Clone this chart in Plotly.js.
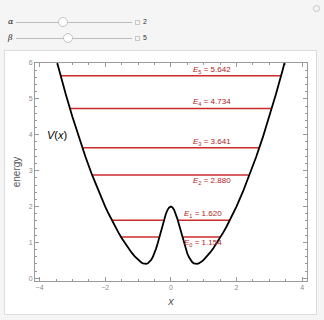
<!DOCTYPE html>
<html>
<head>
<meta charset="utf-8">
<script src="https://cdn.plot.ly/plotly-3.0.1.min.js"></script>
<style>
html,body{margin:0;padding:0;background:#f5f5f5;width:324px;height:320px;overflow:hidden;font-family:"Liberation Sans",Arial,sans-serif;}
#panel{position:absolute;left:4px;top:50px;width:311px;height:263px;background:#fff;border:1px solid #dcdcdc;}
#chart{position:absolute;left:0;top:0;width:324px;height:320px;}
.lbl{position:absolute;font-size:8px;line-height:8px;color:#222;font-style:italic;font-family:"DejaVu Serif",serif;}
.track{position:absolute;height:1px;background:#bdbdbd;}
.thumb{position:absolute;width:10px;height:10px;border-radius:50%;background:#fff;border:1px solid #c4c4c4;box-sizing:border-box;}
.box{position:absolute;width:5px;height:5px;border:1px solid #c8c8c8;box-sizing:border-box;}
.val{position:absolute;font-size:7px;line-height:8px;color:#333;}
#gear{position:absolute;left:313px;top:5px;width:7px;height:7px;border-radius:50%;border:1.5px solid #c6c6c6;box-sizing:border-box;}
</style>
</head>
<body>
<div id="panel"></div>
<div class="lbl" style="left:8px;top:18px;">α</div>
<div class="track" style="left:16px;top:22px;width:116px;"></div>
<div class="thumb" style="left:58px;top:17px;"></div>
<div class="box" style="left:135px;top:20px;"></div>
<div class="val" style="left:143px;top:18px;">2</div>
<div class="lbl" style="left:8px;top:34px;">β</div>
<div class="track" style="left:16px;top:38px;width:116px;"></div>
<div class="thumb" style="left:63px;top:33px;"></div>
<div class="box" style="left:135px;top:36px;"></div>
<div class="val" style="left:143px;top:34px;">5</div>
<div id="gear"></div>
<div id="chart"></div>
<script>
// potential curve V(x) (alpha = 2, beta = 5)
var curveX = [-3.5,-3.4,-3.2,-3.0,-2.8,-2.6,-2.4,-2.2,-2.0,-1.9,-1.8,-1.7,-1.6,-1.5,-1.4,-1.3,-1.2,-1.1,-1.0,-0.95,-0.9,-0.85,-0.8,-0.75,-0.7,-0.65,-0.6,-0.55,-0.5,-0.45,-0.4,-0.35,-0.3,-0.25,-0.2,-0.15,-0.1,-0.05,0,
  0.05,0.1,0.15,0.2,0.25,0.3,0.35,0.4,0.45,0.5,0.55,0.6,0.65,0.7,0.75,0.8,0.85,0.9,0.95,1.0,1.1,1.2,1.3,1.4,1.5,1.6,1.7,1.8,1.9,2.0,2.2,2.4,2.6,2.8,3.0,3.2,3.4,3.5];
var curveY = [6.125,5.78,5.12,4.5,3.92,3.38,2.88,2.42,2.0,1.805,1.62,1.445,1.28,1.125,0.980,0.845,0.7215,0.6097,0.5135,0.4732,0.4399,0.4152,0.4015,0.4014,0.4176,0.4531,0.5106,0.592,0.698,0.8279,0.9787,1.1452,1.3203,1.4945,1.6575,1.7985,1.9075,1.9764,2.0,
  1.9764,1.9075,1.7985,1.6575,1.4945,1.3203,1.1452,0.9787,0.8279,0.698,0.592,0.5106,0.4531,0.4176,0.4014,0.4015,0.4152,0.4399,0.4732,0.5135,0.6097,0.7215,0.845,0.980,1.125,1.28,1.445,1.62,1.805,2.0,2.42,2.88,3.38,3.92,4.5,5.12,5.78,6.125];

// energy levels and their turning points
var levelE     = [1.154, 1.620, 2.880, 3.641, 4.734, 5.642];
var levelNames = ["0","1","2","3","4","5"];
var outerLeft  = [-1.519, -1.800, -2.400, -2.6985, -3.077, -3.3592];
var outerRight = [ 1.519,  1.800,  2.400,  2.6985,  3.077,  3.3592];
var innerLeft  = [-0.3475, -0.212, null, null, null, null];
var innerRight = [ 0.3475,  0.212, null, null, null, null];
var labelX     = [0.985, 0.985, 1.244, 1.244, 1.244, 1.244];
var labelAbove = [false, true, false, true, true, true];

var red = '#cc2b2b';
var traces = [];
for (var i = 0; i < levelE.length; i++) {
  var xs, ys;
  if (innerLeft[i] !== null) {
    xs = [outerLeft[i], innerLeft[i], null, innerRight[i], outerRight[i]];
    ys = [levelE[i], levelE[i], null, levelE[i], levelE[i]];
  } else {
    xs = [outerLeft[i], outerRight[i]];
    ys = [levelE[i], levelE[i]];
  }
  traces.push({x: xs, y: ys, mode: 'lines', line: {color: red, width: 1.5}, hoverinfo: 'skip', showlegend: false});
}
traces.push({x: curveX, y: curveY, mode: 'lines', line: {color: '#000', width: 1.8}, showlegend: false, hoverinfo: 'skip'});

var annotations = [];
for (var j = 0; j < levelE.length; j++) {
  annotations.push({
    x: labelX[j], y: levelE[j], xref: 'x', yref: 'y', showarrow: false,
    text: '<i>E</i><sub>' + levelNames[j] + '</sub> = ' + levelE[j].toFixed(3),
    font: {family: 'Liberation Sans, Arial, sans-serif', size: 8, color: '#b22222'},
    yshift: labelAbove[j] ? 6 : -6
  });
}
annotations.push({x: -3.48, y: 3.99, xref: 'x', yref: 'y', showarrow: false,
  text: '<i>V</i>(<i>x</i>)', font: {family: 'Liberation Sans, Arial, sans-serif', size: 11, color: '#000'}});

var axisCommon = {
  showgrid: false, zeroline: false, showline: true, linecolor: '#9a9a9a', linewidth: 1,
  mirror: 'allticks', ticks: 'inside', ticklen: 4, tickcolor: '#9a9a9a', tickwidth: 1,
  tickfont: {family: 'Liberation Sans, Arial, sans-serif', size: 7, color: '#8a8a8a'}
};
var layout = {
  width: 324, height: 320,
  paper_bgcolor: 'rgba(0,0,0,0)', plot_bgcolor: '#fff',
  margin: {l: 35, r: 17, t: 63, b: 39},
  xaxis: Object.assign({}, axisCommon, {
    range: [-4.14, 4.15], tickvals: [-4, -2, 0, 2, 4], ticktext: ['−4','−2','0','2','4'],
    minor: {dtick: 0.5, ticks: 'inside', ticklen: 2, tickcolor: '#9a9a9a'},
    title: {text: '<i>x</i>', font: {family: 'Liberation Sans, Arial, sans-serif', size: 11, color: '#555'}, standoff: 6}
  }),
  yaxis: Object.assign({}, axisCommon, {
    range: [-0.075, 6.0], tickvals: [0, 1, 2, 3, 4, 5, 6],
    minor: {dtick: 0.2, ticks: 'inside', ticklen: 2, tickcolor: '#9a9a9a'},
    title: {text: 'energy', font: {family: 'Liberation Sans, Arial, sans-serif', size: 10, color: '#555'}, standoff: 6}
  }),
  annotations: annotations
};
Plotly.newPlot('chart', traces, layout, {displayModeBar: false, staticPlot: true});
</script>
</body>
</html>
